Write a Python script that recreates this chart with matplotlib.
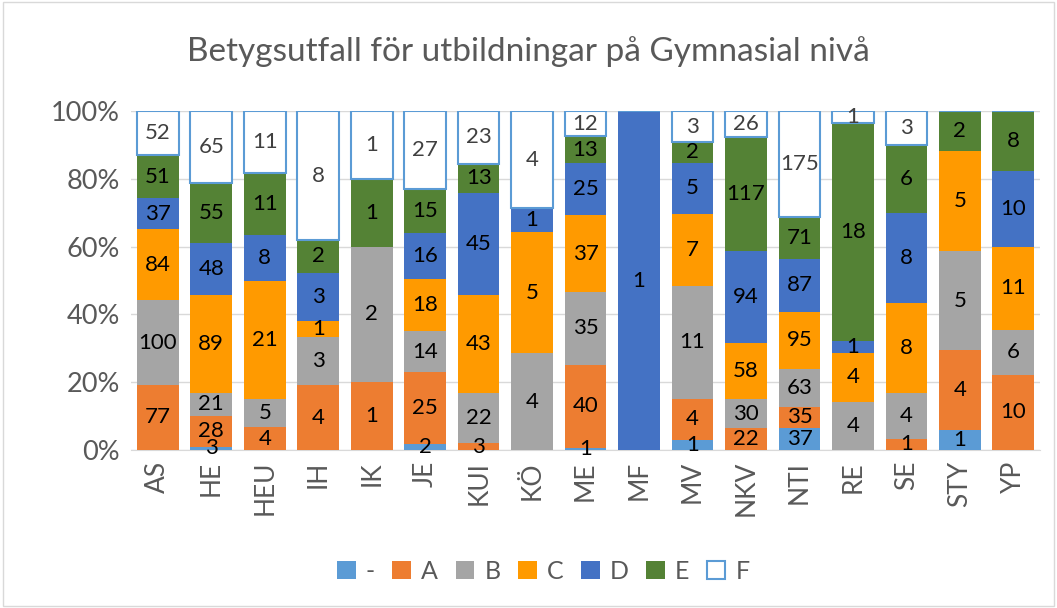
import numpy as np
import matplotlib
matplotlib.use("Agg")
import matplotlib.pyplot as plt

plt.rcParams['font.family'] = ['Lato', 'DejaVu Sans']

categories = ['AS', 'HE', 'HEU', 'IH', 'IK', 'JE', 'KUI', 'KÖ', 'ME', 'MF',
              'MV', 'NKV', 'NTI', 'RE', 'SE', 'STY', 'YP']
grades = ['-', 'A', 'B', 'C', 'D', 'E', 'F']

g_dash = [0, 3, 0, 0, 0, 2, 0, 0, 1, 0, 1, 0, 37, 0, 0, 1, 0]
g_a = [77, 28, 4, 4, 1, 25, 3, 0, 40, 0, 4, 22, 35, 0, 1, 4, 10]
g_b = [100, 21, 5, 3, 2, 14, 22, 4, 35, 0, 11, 30, 63, 4, 4, 5, 6]
g_c = [84, 89, 21, 1, 0, 18, 43, 5, 37, 0, 7, 58, 95, 4, 8, 5, 11]
g_d = [37, 48, 8, 3, 0, 16, 45, 1, 25, 1, 5, 94, 87, 1, 8, 0, 10]
g_e = [51, 55, 11, 2, 1, 15, 13, 0, 13, 0, 2, 117, 71, 18, 6, 2, 8]
g_f = [52, 65, 11, 8, 1, 27, 23, 4, 12, 0, 3, 26, 175, 1, 3, 0, 0]

series = [g_dash, g_a, g_b, g_c, g_d, g_e, g_f]
colors = ['#5B9BD5', '#ED7D31', '#A5A5A5', '#FF9A00', '#4472C4', '#548235', 'white']

counts = np.array(series, dtype=float)
totals = counts.sum(axis=0)
shares = counts / totals * 100

fig = plt.figure(figsize=(10.57, 6.08), dpi=100)
ax = fig.add_axes([0.124, 0.26, 0.86, 0.557])

x = np.arange(len(categories))
bottom = np.zeros(len(categories))
for i, g in enumerate(grades):
    if g == 'F':
        bars = ax.bar(x, shares[i], 0.78, bottom=bottom, color='white',
                      edgecolor='#5B9BD5', linewidth=1.5, label=g, zorder=3)
        tc = '#404040'
    else:
        bars = ax.bar(x, shares[i], 0.78, bottom=bottom, color=colors[i],
                      edgecolor='none', label=g, zorder=3)
        tc = 'black'
    for j in range(len(categories)):
        if counts[i, j] > 0:
            ax.text(x[j], bottom[j] + shares[i, j] / 2, '%d' % counts[i, j],
                    ha='center', va='center', fontsize=16, color=tc, zorder=4)
    bottom += shares[i]

ax.set_xlim(-0.5, len(categories) - 0.5)
ax.set_ylim(0, 100)
ax.set_yticks(np.arange(0, 101, 20))
ax.set_yticklabels(['%d%%' % v for v in range(0, 101, 20)], fontsize=19.5, color='#595959')
ax.set_xticks(x)
ax.set_xticklabels(categories, rotation=90, fontsize=19, color='#595959')
ax.tick_params(length=0, pad=8)
ax.grid(axis='y', color='#D9D9D9', linewidth=1, zorder=0)
for s in ['top', 'right', 'left']:
    ax.spines[s].set_visible(False)
ax.spines['bottom'].set_color('#D9D9D9')

fig.suptitle('Betygsutfall för utbildningar på Gymnasial nivå', y=0.94,
             fontsize=24, color='#595959')

leg = fig.legend(loc='center', bbox_to_anchor=(0.514, 0.06), ncol=7, frameon=False,
                 fontsize=18, handlelength=0.75, handleheight=0.75, columnspacing=0.7,
                 handletextpad=0.4, labelcolor='#595959')

fig.patches.append(plt.Rectangle((0.003, 0.003), 0.994, 0.994, transform=fig.transFigure,
                                 fill=False, edgecolor='#D9D9D9', linewidth=1))

fig.savefig('out.png', dpi=100)
